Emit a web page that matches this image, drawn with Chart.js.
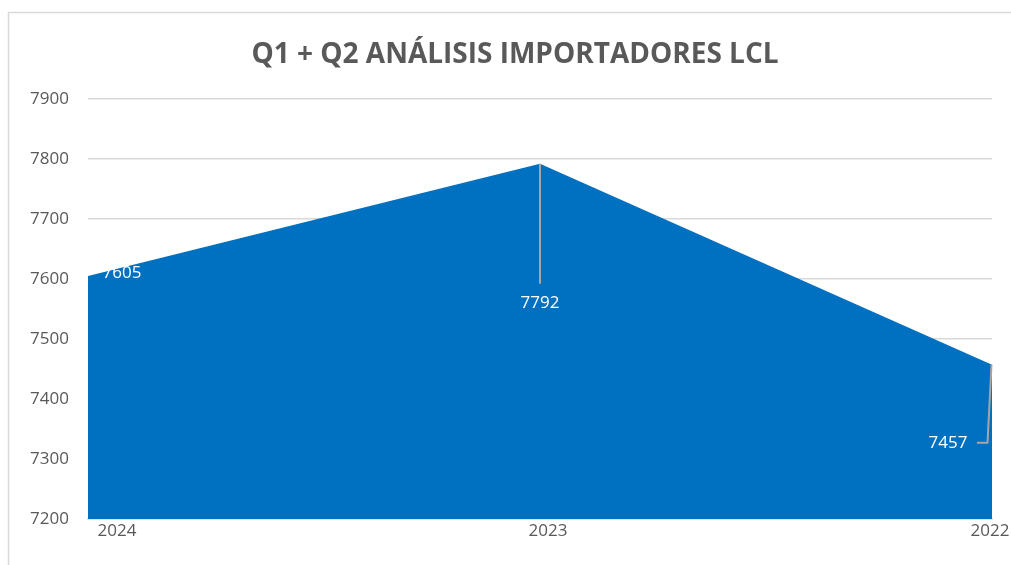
<!DOCTYPE html>
<html><head><meta charset="utf-8">
<script src="https://cdn.jsdelivr.net/npm/chart.js@4"></script>
<style>html,body{margin:0;padding:0;background:#fff}#wrap{width:1011px;height:565px;position:relative}</style>
</head><body><div id="wrap"><canvas id="c" width="1011" height="565"></canvas></div>
<script>
const categories = ['2024', '2023', '2022'];
const values = [7605, 7792, 7457];
const yTicks = [7200, 7300, 7400, 7500, 7600, 7700, 7800, 7900];
const titleText = 'Q1 + Q2 ANÁLISIS IMPORTADORES LCL';

const FONT = '"Open Sans", sans-serif';
const GREY = '#595959';

const framePlugin = {
  id: 'frame',
  beforeDraw(chart) {
    const ctx = chart.ctx;
    ctx.save();
    ctx.strokeStyle = '#d9d9d9';
    ctx.lineWidth = 1.5;
    ctx.beginPath();
    ctx.moveTo(8.5, 565); ctx.lineTo(8.5, 12.5); ctx.lineTo(1011, 12.5);
    ctx.stroke();
    ctx.fillStyle = GREY;
    ctx.font = 'bold 28px ' + FONT;
    ctx.textAlign = 'center';
    ctx.textBaseline = 'alphabetic';
    ctx.fillText(titleText, 515, 63);
    ctx.restore();
  }
};

const xLabelOffsets = [[29, 'center'], [8, 'center'], [-2, 'center']];
const labelPlugin = {
  id: 'labels',
  afterDatasetsDraw(chart) {
    const ctx = chart.ctx;
    const meta = chart.getDatasetMeta(0);
    const xs = chart.scales.x;
    ctx.save();
    ctx.font = '17px ' + FONT;
    ctx.fillStyle = GREY;
    ctx.textBaseline = 'middle';
    categories.forEach((c, i) => {
      const px = xs.getPixelForValue(i);
      ctx.textAlign = xLabelOffsets[i][1];
      ctx.fillText(c, px + xLabelOffsets[i][0], chart.chartArea.bottom + 12);
    });
    const pts = meta.data;
    ctx.fillStyle = '#ffffff';
    ctx.textAlign = 'center';
    ctx.strokeStyle = '#a6a6a6';
    ctx.lineWidth = 2;
    let p = pts[0];
    ctx.fillText(String(values[0]), p.x + 34, p.y - 3);
    p = pts[1];
    ctx.beginPath(); ctx.moveTo(p.x, p.y); ctx.lineTo(p.x, p.y + 120); ctx.stroke();
    ctx.fillText(String(values[1]), p.x, p.y + 139);
    p = pts[2];
    ctx.beginPath(); ctx.moveTo(p.x - 0.5, p.y); ctx.lineTo(p.x - 4.5, p.y + 78); ctx.lineTo(p.x - 15, p.y + 78); ctx.stroke();
    ctx.fillText(String(values[2]), p.x - 44, p.y + 78);
    ctx.restore();
  }
};

new Chart(document.getElementById('c'), {
  type: 'line',
  data: {
    labels: categories,
    datasets: [{
      data: values,
      fill: 'start',
      backgroundColor: '#0070c0',
      borderColor: '#0070c0',
      borderWidth: 0,
      pointRadius: 0,
      tension: 0
    }]
  },
  options: {
    responsive: false,
    animation: false,
    layout: { padding: { left: 0, right: 19, top: 99, bottom: 0 } },
    plugins: { legend: { display: false }, title: { display: false }, tooltip: { enabled: false } },
    scales: {
      x: {
        type: 'category',
        offset: false,
        grid: { display: false },
        border: { display: true, color: '#d9d9d9', width: 1.5 },
        ticks: { display: false },
        afterFit(s) { s.height = 46; }
      },
      y: {
        min: 7200, max: 7900,
        afterBuildTicks(s) { s.ticks = yTicks.map(v => ({ value: v })); },
        grid: { color: '#d9d9d9', lineWidth: 1.5, drawTicks: false },
        border: { display: false },
        ticks: { color: GREY, font: { family: FONT, size: 17 }, padding: 19, callback: v => String(v) },
        afterFit(s) { s.width = 88; }
      }
    }
  },
  plugins: [framePlugin, labelPlugin]
});
</script></body></html>
